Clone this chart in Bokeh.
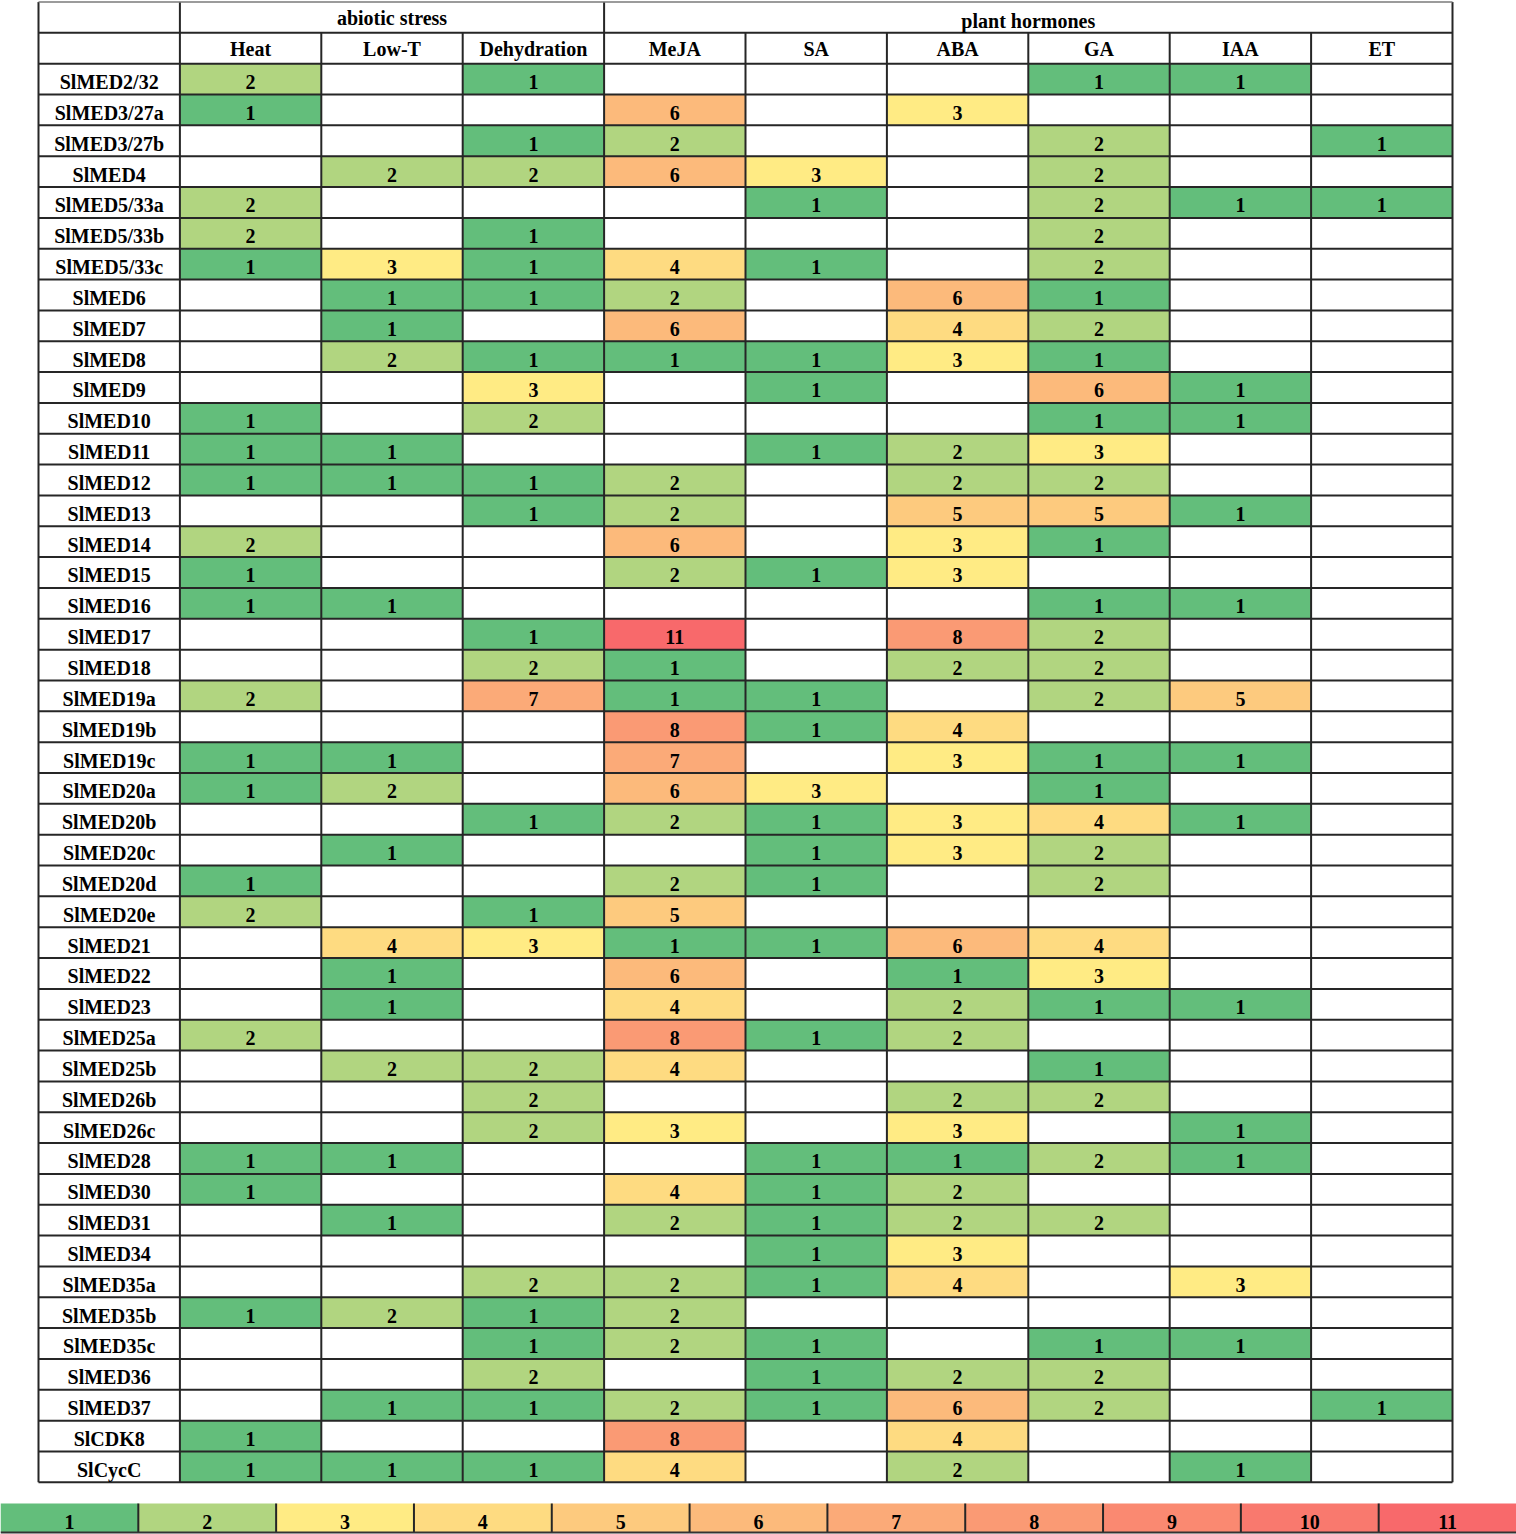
from bokeh.plotting import figure
from bokeh.models import Range1d, ColumnDataSource
from bokeh.core.properties import value
from bokeh.embed import file_html
from bokeh.resources import INLINE

N = None

genes = ["SlMED2/32", "SlMED3/27a", "SlMED3/27b", "SlMED4", "SlMED5/33a", "SlMED5/33b",
         "SlMED5/33c", "SlMED6", "SlMED7", "SlMED8", "SlMED9", "SlMED10", "SlMED11",
         "SlMED12", "SlMED13", "SlMED14", "SlMED15", "SlMED16", "SlMED17", "SlMED18",
         "SlMED19a", "SlMED19b", "SlMED19c", "SlMED20a", "SlMED20b", "SlMED20c",
         "SlMED20d", "SlMED20e", "SlMED21", "SlMED22", "SlMED23", "SlMED25a", "SlMED25b",
         "SlMED26b", "SlMED26c", "SlMED28", "SlMED30", "SlMED31", "SlMED34", "SlMED35a",
         "SlMED35b", "SlMED35c", "SlMED36", "SlMED37", "SlCDK8", "SlCycC"]

conditions = ["Heat", "Low-T", "Dehydration", "MeJA", "SA", "ABA", "GA", "IAA", "ET"]
groups = ["abiotic stress", "plant hormones"]
group_sizes = [3, 6]

heat = [2, 1, N, N, 2, 2, 1, N, N, N, N, 1, 1, 1, N, 2, 1, 1, N, N,
        2, N, 1, 1, N, N, 1, 2, N, N, N, 2, N, N, N, 1, 1, N, N, N,
        1, N, N, N, 1, 1]
low_t = [N, N, N, 2, N, N, 3, 1, 1, 2, N, N, 1, 1, N, N, N, 1, N, N,
         N, N, 1, 2, N, 1, N, N, 4, 1, 1, N, 2, N, N, 1, N, 1, N, N,
         2, N, N, 1, N, 1]
dehydration = [1, N, 1, 2, N, 1, 1, 1, N, 1, 3, 2, N, 1, 1, N, N, N, 1, 2,
               7, N, N, N, 1, N, N, 1, 3, N, N, N, 2, 2, 2, N, N, N, N, 2,
               1, 1, 2, 1, N, 1]
meja = [N, 6, 2, 6, N, N, 4, 2, 6, 1, N, N, N, 2, 2, 6, 2, N, 11, 1,
        1, 8, 7, 6, 2, N, 2, 5, 1, 6, 4, 8, 4, N, 3, N, 4, 2, N, 2,
        2, 2, N, 2, 8, 4]
sa = [N, N, N, 3, 1, N, 1, N, N, 1, 1, N, 1, N, N, N, 1, N, N, N,
      1, 1, N, 3, 1, 1, 1, N, 1, N, N, 1, N, N, N, 1, 1, 1, 1, 1,
      N, 1, 1, 1, N, N]
aba = [N, 3, N, N, N, N, N, 6, 4, 3, N, N, 2, 2, 5, 3, 3, N, 8, 2,
       N, 4, 3, N, 3, 3, N, N, 6, 1, 2, 2, N, 2, 3, 1, 2, 2, 3, 4,
       N, N, 2, 6, 4, 2]
ga = [1, N, 2, 2, 2, 2, 2, 1, 2, 1, 6, 1, 3, 2, 5, 1, N, 1, 2, 2,
      2, N, 1, 1, 4, 2, 2, N, 4, 3, 1, N, 1, 2, N, 2, N, 2, N, N,
      N, 1, 2, 2, N, N]
iaa = [1, N, N, N, 1, N, N, N, N, N, 1, 1, N, N, 1, N, N, 1, N, N,
       5, N, 1, N, 1, N, N, N, N, N, 1, N, N, N, 1, 1, N, N, N, 3,
       N, 1, N, N, N, 1]
et = [N, N, 1, N, 1, N, N, N, N, N, N, N, N, N, N, N, N, N, N, N,
      N, N, N, N, N, N, N, N, N, N, N, N, N, N, N, N, N, N, N, N,
      N, N, N, 1, N, N]

columns = [heat, low_t, dehydration, meja, sa, aba, ga, iaa, et]

legend_levels = [1, 2, 3, 4, 5, 6, 7, 8, 9, 10, 11]
level_colors = ["#63BE7B", "#B1D580", "#FFEB84", "#FEDB81", "#FDCA7E", "#FCBA7B",
                "#FBAA78", "#FA9A74", "#FA8971", "#F9796E", "#F8696B"]

# ---------------- layout (pixels) ----------------
W, H = 1516, 1534
COL_W = 141.4
ROW_H = 30.84
LEFT = 38
TOP = 1.5
LEG_TOP = 1503
LEG_BOT = 1532
FONT = value("Liberation Serif")
FS = "20px"
CELL_BASE = 12.5   # px above a row's bottom line for text baseline
HEAD_BASE = 15
LEG_BASE = 11

x0 = -LEFT / COL_W
x1 = (W - LEFT) / COL_W
y_bottom = (H - TOP) / ROW_H
y_top = -TOP / ROW_H

p = figure(width=W, height=H, output_backend="svg", toolbar_location=None,
           x_range=Range1d(x0, x1), y_range=Range1d(y_bottom, y_top),
           min_border=0, outline_line_color=None, background_fill_color="white",
           border_fill_color="white")
p.axis.visible = False
p.grid.visible = False

n_cols = len(conditions) + 1
n_rows = len(genes) + 2
color_of = dict(zip(legend_levels, level_colors))

# coloured cells
cl, cr, ct, cb, cc, cx, cy, ctext = [], [], [], [], [], [], [], []
for ci, col in enumerate(columns):
    for ri, v in enumerate(col):
        if v is None:
            continue
        cl.append(ci + 1)
        cr.append(ci + 2)
        ct.append(ri + 2)
        cb.append(ri + 3)
        cc.append(color_of[v])
        cx.append(ci + 1.5)
        cy.append(ri + 3 - CELL_BASE / ROW_H)
        ctext.append(str(v))
cells = ColumnDataSource(dict(left=cl, right=cr, top=ct, bottom=cb, color=cc,
                              x=cx, y=cy, text=ctext))
p.quad(left="left", right="right", top="top", bottom="bottom", fill_color="color",
       line_color=None, source=cells)

# grid lines
sx0, sy0, sx1, sy1 = [], [], [], []
for r in range(1, n_rows + 1):
    sx0.append(0); sx1.append(n_cols); sy0.append(r); sy1.append(r)
bounds = [0, 1]
acc = 1
for g in group_sizes:
    acc += g
    bounds.append(acc)
for c in range(n_cols + 1):
    start = 0 if c in bounds else 1
    sx0.append(c); sx1.append(c); sy0.append(start); sy1.append(n_rows)
p.segment(x0=sx0, y0=sy0, x1=sx1, y1=sy1, line_color="#262626", line_width=2)
p.segment(x0=[0], y0=[0], x1=[n_cols], y1=[0], line_color="#7a7a7a", line_width=1.5)

text_kw = dict(text_font=FONT, text_font_style="bold", text_font_size=FS,
               text_align="center", text_baseline="alphabetic", text_color="black")

p.text(x="x", y="y", text="text", source=cells, **text_kw)

# row labels
p.text(x=[0.5] * len(genes), y=[i + 3 - CELL_BASE / ROW_H for i in range(len(genes))],
       text=genes, **text_kw)

# column headers
p.text(x=[i + 1.5 for i in range(len(conditions))],
       y=[2 - HEAD_BASE / ROW_H] * len(conditions), text=conditions, **text_kw)

# group headers
gx = []
acc = 1
for g in group_sizes:
    gx.append(acc + g / 2)
    acc += g
p.text(x=gx, y=[1 - HEAD_BASE / ROW_H, 1 - (HEAD_BASE - 3) / ROW_H], text=groups, **text_kw)

# colour legend bar
leg_w = (x1 - x0) / len(legend_levels)
ly_top = (LEG_TOP - TOP) / ROW_H
ly_bot = (LEG_BOT - TOP) / ROW_H
ll = [x0 + k * leg_w for k in range(len(legend_levels))]
lr = [x0 + (k + 1) * leg_w for k in range(len(legend_levels))]
p.quad(left=ll, right=lr, top=[ly_top] * len(ll), bottom=[ly_bot] * len(ll),
       fill_color=level_colors, line_color=None)
p.segment(x0=lr[:-1], y0=[ly_top] * (len(lr) - 1), x1=lr[:-1], y1=[ly_bot] * (len(lr) - 1),
          line_color="#262626", line_width=2)
p.segment(x0=[x0], y0=[ly_bot], x1=[x1], y1=[ly_bot], line_color="#333333", line_width=2)
p.text(x=[(a + b) / 2 for a, b in zip(ll, lr)],
       y=[ly_bot - LEG_BASE / ROW_H] * len(ll), text=[str(v) for v in legend_levels], **text_kw)

open("out.html", "w").write(file_html(p, INLINE))
